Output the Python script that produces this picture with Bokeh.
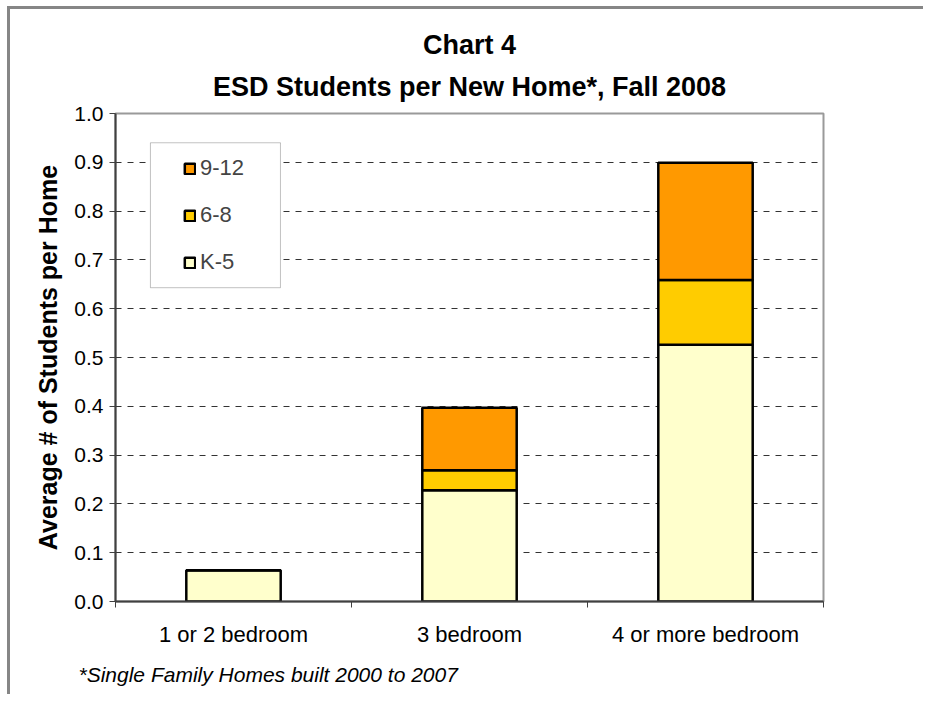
import numpy as np
from bokeh.plotting import figure
from bokeh.models import (ColumnDataSource, FixedTicker, Legend, LegendItem,
                          BoxAnnotation, Title, NumeralTickFormatter)
from bokeh.embed import file_html
from bokeh.resources import INLINE

# ---- data ----
categories = ["1 or 2 bedroom", "3 bedroom", "4 or more bedroom"]
k5 = [0.064, 0.228, 0.526]
g6_8 = [0.0, 0.041, 0.133]
g9_12 = [0.0, 0.128, 0.240]
series_names = ["K-5", "6-8", "9-12"]
series_colors = ["#FFFFCC", "#FFCC00", "#FF9900"]
y_ticks = [round(0.1 * i, 1) for i in range(11)]
title_lines = ["Chart 4", "ESD Students per New Home*, Fall 2008"]
y_label = "Average # of Students per Home"
footnote = "*Single Family Homes built 2000 to 2007"

FONT = "Liberation Sans"

xpos = [i + 0.5 for i in range(len(categories))]
source = ColumnDataSource(dict(x=xpos, k5=k5, g6_8=g6_8, g9_12=g9_12))

W, H = 916, 688
p = figure(width=W, height=H, x_range=(0, 3), y_range=(0, 1.0),
           output_backend="svg", toolbar_location=None, title=None,
           min_border_left=105, min_border_right=103,
           min_border_top=104, min_border_bottom=96)
p.styles = {"border-top": "3px solid #868686", "border-left": "3px solid #868686",
            "margin-left": "7px", "margin-top": "6px"}
p.background_fill_color = "white"
p.border_fill_color = "white"
p.outline_line_color = "#9a9a9a"
p.outline_line_width = 2

renderers = p.vbar_stack(["k5", "g6_8", "g9_12"], x="x", width=0.4, source=source,
                         color=series_colors, line_color="black", line_width=2.5)

# axes
p.xaxis.ticker = FixedTicker(ticks=xpos, minor_ticks=[0, 1, 2, 3])
p.xaxis.major_label_overrides = {x: c for x, c in zip(xpos, categories)}
p.xaxis.major_tick_line_color = None
p.xaxis.minor_tick_line_color = "#404040"
p.xaxis.minor_tick_out = 6
p.xaxis.minor_tick_in = 0
p.xaxis.axis_line_color = "#404040"
p.xaxis.axis_line_width = 2
p.xaxis.major_label_text_font = FONT
p.xaxis.major_label_text_font_size = "22px"
p.xaxis.major_label_text_color = "black"
p.xaxis.major_label_standoff = 14

p.yaxis.ticker = FixedTicker(ticks=y_ticks, minor_ticks=[])
p.yaxis.formatter = NumeralTickFormatter(format="0.0")
p.yaxis.axis_line_color = "#404040"
p.yaxis.axis_line_width = 2
p.yaxis.major_tick_line_color = "#404040"
p.yaxis.major_tick_out = 6
p.yaxis.major_tick_in = 0
p.yaxis.major_label_text_font = FONT
p.yaxis.major_label_text_font_size = "21px"
p.yaxis.major_label_text_color = "black"
p.yaxis.major_label_standoff = 6
p.yaxis.axis_label = y_label
p.yaxis.axis_label_text_font = FONT
p.yaxis.axis_label_text_font_size = "25px"
p.yaxis.axis_label_text_font_style = "bold"
p.yaxis.axis_label_text_color = "black"
p.yaxis.axis_label_standoff = 9

p.xgrid.grid_line_color = None
p.ygrid.ticker = FixedTicker(ticks=y_ticks[1:-1])
p.ygrid.grid_line_color = "#333333"
p.ygrid.grid_line_dash = "6 6"
p.ygrid.grid_line_width = 1

# legend box
box = BoxAnnotation(left=0.148, right=0.699, bottom=0.643, top=0.940,
                    fill_color="white", fill_alpha=1.0,
                    line_color="#333333", line_width=1, level="annotation")
p.add_layout(box)

items = [LegendItem(label=n, renderers=[r]) for n, r in zip(series_names, renderers)]
legend = Legend(items=items[::-1], location=(68, 326), orientation="vertical",
                background_fill_alpha=0, border_line_color=None, padding=0, margin=0,
                spacing=21, glyph_width=13, glyph_height=13, label_height=22,
                label_standoff=4, label_text_font=FONT, label_text_font_size="22px")
p.add_layout(legend)

# titles
t2 = Title(text=title_lines[1], align="center", text_font=FONT, text_font_size="27px",
           text_font_style="bold", text_color="black", standoff=23, offset=0)
t1 = Title(text=title_lines[0], align="center", text_font=FONT, text_font_size="27px",
           text_font_style="bold", text_color="black", standoff=-3, offset=0)
p.add_layout(t2, "above")
p.add_layout(t1, "above")

fn = Title(text=footnote, align="left", text_font=FONT, text_font_size="21px",
           text_font_style="italic", text_color="black", offset=-37, standoff=22)
p.add_layout(fn, "below")

open("out.html", "w").write(file_html(p, INLINE))
